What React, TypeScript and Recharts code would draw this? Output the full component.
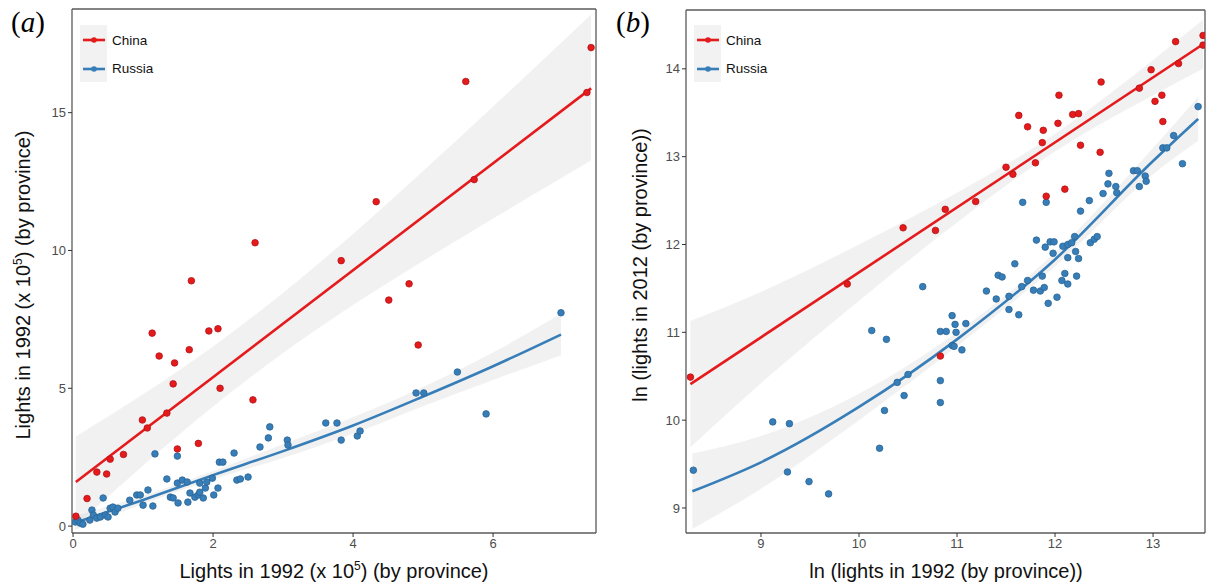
import React from "react";
import { ComposedChart, Scatter, Line, Area, XAxis, YAxis, Legend, ReferenceLine } from "recharts";

// panel (a): raw lights, x 10^5
const chinaA = [
  { x: 0.04, y: 0.36 }, { x: 0.2, y: 1.0 }, { x: 0.34, y: 1.96 }, { x: 0.48, y: 1.89 }, { x: 0.53, y: 2.43 },
  { x: 0.72, y: 2.6 }, { x: 0.99, y: 3.85 }, { x: 1.06, y: 3.56 }, { x: 1.13, y: 7.0 }, { x: 1.23, y: 6.17 },
  { x: 1.34, y: 4.1 }, { x: 1.43, y: 5.16 }, { x: 1.45, y: 5.92 }, { x: 1.49, y: 2.8 }, { x: 1.66, y: 6.4 },
  { x: 1.69, y: 8.9 }, { x: 1.79, y: 3.0 }, { x: 1.94, y: 7.08 }, { x: 2.07, y: 7.16 }, { x: 2.1, y: 5.0 },
  { x: 2.57, y: 4.58 }, { x: 2.6, y: 10.28 }, { x: 3.83, y: 9.63 }, { x: 4.33, y: 11.77 }, { x: 4.51, y: 8.2 },
  { x: 4.8, y: 8.79 }, { x: 4.93, y: 6.57 }, { x: 5.61, y: 16.13 }, { x: 5.73, y: 12.57 }, { x: 7.34, y: 15.73 },
  { x: 7.4, y: 17.36 },
];
const russiaA = [
  { x: 0.03, y: 0.15 }, { x: 0.07, y: 0.22 }, { x: 0.1, y: 0.11 }, { x: 0.14, y: 0.07 }, { x: 0.24, y: 0.22 },
  { x: 0.27, y: 0.58 }, { x: 0.29, y: 0.4 }, { x: 0.34, y: 0.29 }, { x: 0.39, y: 0.33 }, { x: 0.43, y: 1.02 },
  { x: 0.46, y: 0.4 }, { x: 0.5, y: 0.33 }, { x: 0.53, y: 0.65 }, { x: 0.57, y: 0.69 }, { x: 0.6, y: 0.51 },
  { x: 0.64, y: 0.65 }, { x: 0.81, y: 0.94 }, { x: 0.91, y: 1.13 }, { x: 0.96, y: 1.13 }, { x: 1.0, y: 0.76 },
  { x: 1.07, y: 1.31 }, { x: 1.14, y: 0.73 }, { x: 1.17, y: 2.62 }, { x: 1.34, y: 1.71 }, { x: 1.39, y: 1.05 },
  { x: 1.43, y: 1.02 }, { x: 1.49, y: 2.54 }, { x: 1.49, y: 1.56 }, { x: 1.5, y: 0.84 }, { x: 1.56, y: 1.67 },
  { x: 1.63, y: 1.6 }, { x: 1.64, y: 0.87 }, { x: 1.67, y: 1.2 }, { x: 1.74, y: 1.05 }, { x: 1.79, y: 1.13 },
  { x: 1.81, y: 1.56 }, { x: 1.81, y: 1.23 }, { x: 1.86, y: 1.02 }, { x: 1.89, y: 1.38 }, { x: 1.91, y: 1.6 },
  { x: 1.99, y: 1.74 }, { x: 2.01, y: 1.13 }, { x: 2.07, y: 1.38 }, { x: 2.09, y: 2.32 }, { x: 2.14, y: 2.32 },
  { x: 2.3, y: 2.65 }, { x: 2.34, y: 1.67 }, { x: 2.39, y: 1.71 }, { x: 2.5, y: 1.78 }, { x: 2.67, y: 2.87 },
  { x: 2.79, y: 3.2 }, { x: 2.81, y: 3.6 }, { x: 3.06, y: 3.12 }, { x: 3.07, y: 2.94 }, { x: 3.61, y: 3.74 },
  { x: 3.77, y: 3.74 }, { x: 3.83, y: 3.12 }, { x: 4.06, y: 3.27 }, { x: 4.1, y: 3.45 }, { x: 4.9, y: 4.83 },
  { x: 5.01, y: 4.83 }, { x: 5.49, y: 5.59 }, { x: 5.9, y: 4.07 }, { x: 6.97, y: 7.74 },
];
const chinaFitA = [{ x: 0.04, y: 1.6 }, { x: 7.4, y: 15.88 }];
const chinaBandA = [
  { x: 0.04, band: [0.01, 3.25] }, { x: 1, band: [2.2, 4.78] }, { x: 2, band: [4.34, 6.52] },
  { x: 3, band: [6.28, 8.46] }, { x: 4, band: [8.02, 10.6] }, { x: 5, band: [9.62, 12.88] },
  { x: 6, band: [11.16, 15.22] }, { x: 7.4, band: [13.26, 18.56] },
];
const russiaFitA = [
  { x: 0.03, y: 0.12 }, { x: 1, y: 0.95 }, { x: 2, y: 1.85 }, { x: 3, y: 2.72 }, { x: 4, y: 3.65 },
  { x: 5, y: 4.7 }, { x: 6, y: 5.8 }, { x: 6.97, y: 6.95 },
];
const russiaBandA = [
  { x: 0.03, band: [-0.13, 0.37] }, { x: 1, band: [0.8, 1.1] }, { x: 2, band: [1.7, 2.0] },
  { x: 3, band: [2.47, 2.97] }, { x: 4, band: [3.35, 3.95] }, { x: 5, band: [4.35, 5.05] },
  { x: 6, band: [5.3, 6.3] }, { x: 6.97, band: [6.2, 7.7] },
];

// panel (b): ln values
const chinaB = [
  { x: 8.28, y: 10.49 }, { x: 9.88, y: 11.55 }, { x: 10.45, y: 12.19 }, { x: 10.78, y: 12.16 }, { x: 10.83, y: 10.73 },
  { x: 10.88, y: 12.4 }, { x: 11.19, y: 12.49 }, { x: 11.5, y: 12.88 }, { x: 11.57, y: 12.8 }, { x: 11.63, y: 13.47 },
  { x: 11.72, y: 13.34 }, { x: 11.8, y: 12.93 }, { x: 11.87, y: 13.16 }, { x: 11.88, y: 13.3 }, { x: 11.91, y: 12.55 },
  { x: 12.03, y: 13.38 }, { x: 12.04, y: 13.7 }, { x: 12.1, y: 12.63 }, { x: 12.18, y: 13.48 }, { x: 12.24, y: 13.49 },
  { x: 12.26, y: 13.13 }, { x: 12.46, y: 13.05 }, { x: 12.47, y: 13.85 }, { x: 12.86, y: 13.78 }, { x: 12.98, y: 13.99 },
  { x: 13.02, y: 13.63 }, { x: 13.09, y: 13.7 }, { x: 13.1, y: 13.4 }, { x: 13.23, y: 14.31 }, { x: 13.26, y: 14.06 },
  { x: 13.51, y: 14.38 }, { x: 13.51, y: 14.27 },
];
const russiaB = [
  { x: 8.31, y: 9.43 }, { x: 9.12, y: 9.98 }, { x: 9.27, y: 9.41 }, { x: 9.29, y: 9.96 }, { x: 9.49, y: 9.3 },
  { x: 9.69, y: 9.16 }, { x: 10.13, y: 11.02 }, { x: 10.21, y: 9.68 }, { x: 10.26, y: 10.11 }, { x: 10.28, y: 10.92 },
  { x: 10.39, y: 10.43 }, { x: 10.46, y: 10.28 }, { x: 10.5, y: 10.52 }, { x: 10.65, y: 11.52 }, { x: 10.83, y: 10.45 },
  { x: 10.83, y: 10.2 }, { x: 10.83, y: 11.01 }, { x: 10.89, y: 11.01 }, { x: 10.95, y: 11.19 }, { x: 10.98, y: 11.09 },
  { x: 10.99, y: 11.0 }, { x: 11.09, y: 11.1 }, { x: 10.95, y: 10.85 }, { x: 10.97, y: 10.84 }, { x: 11.05, y: 10.8 },
  { x: 11.3, y: 11.47 }, { x: 11.42, y: 11.65 }, { x: 11.46, y: 11.63 }, { x: 11.4, y: 11.38 }, { x: 11.59, y: 11.78 },
  { x: 11.53, y: 11.41 }, { x: 11.53, y: 11.26 }, { x: 11.63, y: 11.2 }, { x: 11.66, y: 11.52 }, { x: 11.72, y: 11.59 },
  { x: 11.78, y: 11.48 }, { x: 11.85, y: 11.47 }, { x: 11.87, y: 11.64 }, { x: 11.89, y: 11.51 }, { x: 11.93, y: 11.33 },
  { x: 12.02, y: 11.4 }, { x: 12.07, y: 11.59 }, { x: 12.1, y: 11.67 }, { x: 12.13, y: 11.55 }, { x: 12.13, y: 11.85 },
  { x: 12.22, y: 11.64 }, { x: 12.24, y: 11.84 }, { x: 11.98, y: 11.9 }, { x: 12.21, y: 11.92 }, { x: 11.81, y: 12.05 },
  { x: 11.9, y: 11.97 }, { x: 11.95, y: 12.03 }, { x: 11.99, y: 12.03 }, { x: 11.67, y: 12.48 }, { x: 11.91, y: 12.48 },
  { x: 12.08, y: 11.98 }, { x: 12.13, y: 12.0 }, { x: 12.17, y: 12.02 }, { x: 12.2, y: 12.09 }, { x: 12.36, y: 12.02 },
  { x: 12.4, y: 12.06 }, { x: 12.43, y: 12.09 }, { x: 12.26, y: 12.38 }, { x: 12.35, y: 12.5 }, { x: 12.49, y: 12.58 },
  { x: 12.54, y: 12.69 }, { x: 12.55, y: 12.81 }, { x: 12.62, y: 12.66 }, { x: 12.63, y: 12.59 }, { x: 12.8, y: 12.84 },
  { x: 12.84, y: 12.84 }, { x: 12.86, y: 12.66 }, { x: 12.92, y: 12.78 }, { x: 12.93, y: 12.72 }, { x: 13.1, y: 13.1 },
  { x: 13.14, y: 13.1 }, { x: 13.21, y: 13.24 }, { x: 13.3, y: 12.92 }, { x: 13.46, y: 13.57 },
];
const chinaFitB = [{ x: 8.28, y: 10.41 }, { x: 13.51, y: 14.28 }];
const chinaBandB = [
  { x: 8.28, band: [9.69, 11.13] }, { x: 9, band: [10.42, 11.46] }, { x: 10, band: [11.36, 12.0] },
  { x: 11, band: [12.25, 12.59] }, { x: 12, band: [13.06, 13.26] }, { x: 13, band: [13.7, 14.1] },
  { x: 13.51, band: [14.0, 14.56] },
];
const russiaFitB = [
  { x: 8.3, y: 9.19 }, { x: 9, y: 9.52 }, { x: 10, y: 10.15 }, { x: 11, y: 10.92 },
  { x: 12, y: 11.83 }, { x: 13, y: 12.95 }, { x: 13.46, y: 13.43 },
];
const russiaBandB = [
  { x: 8.3, band: [8.76, 9.62] }, { x: 9, band: [9.22, 9.82] }, { x: 10, band: [10.0, 10.3] },
  { x: 11, band: [10.84, 11.0] }, { x: 12, band: [11.75, 11.91] }, { x: 13, band: [12.8, 13.1] },
  { x: 13.46, band: [13.18, 13.68] },
];

const ticksA_x = [0, 2, 4, 6];
const ticksA_y = [0, 5, 10, 15];
const ticksB_x = [9, 10, 11, 12, 13];
const ticksB_y = [9, 10, 11, 12, 13, 14];

const RED = "#E41A1C";
const BLUE = "#377EB8";
const FONT = '"Liberation Sans", Arial, Helvetica, sans-serif';
const SERIF = '"Liberation Serif", "DejaVu Serif", serif';
const AXIS = "#5a5a5a";

const dot = (color: string, edge: string) => (p: any) =>
  <circle cx={p.cx} cy={p.cy} r={3.3} fill={color} stroke={edge} strokeWidth={0.8} />;

const LegendBox = () => (
  <div style={{ position: "relative", width: 90, height: 57, fontFamily: FONT, fontSize: 13.5, color: "#111" }}>
    <div style={{ position: "absolute", left: 0, top: 0, width: 27, height: 57, background: "#f2f2f2" }} />
    {[{ name: "China", color: RED }, { name: "Russia", color: BLUE }].map((it, i) => (
      <div key={it.name} style={{ position: "absolute", left: 0, top: 7 + i * 28.5, height: 16, display: "flex", alignItems: "center" }}>
        <svg width={27} height={16}>
          <line x1={3} x2={25} y1={8} y2={8} stroke={it.color} strokeWidth={2.6} />
          <circle cx={14} cy={8} r={2.8} fill={it.color} />
        </svg>
        <span style={{ marginLeft: 5 }}>{it.name}</span>
      </div>
    ))}
  </div>
);

type PanelProps = {
  width: number;
  marginLeft: number;
  marginRight: number;
  top: number;
  xDomain: number[];
  yDomain: number[];
  xTicks: number[];
  yTicks: number[];
  china: any[];
  russia: any[];
  chinaFit: any[];
  russiaFit: any[];
  chinaBand: any[];
  russiaBand: any[];
};

function Panel(p: PanelProps) {
  const tick = { fill: "#4d4d4d", fontSize: 13, fontFamily: FONT };
  return (
    <ComposedChart width={p.width} height={588} margin={{ top: p.top, right: p.marginRight, bottom: 25, left: p.marginLeft }}>
      <XAxis type="number" dataKey="x" domain={p.xDomain} ticks={p.xTicks} allowDataOverflow height={30}
        tick={tick} tickSize={4} tickLine={{ stroke: "#333" }} axisLine={{ stroke: AXIS, strokeWidth: 1.3 }} />
      <YAxis type="number" dataKey="y" domain={p.yDomain} ticks={p.yTicks} allowDataOverflow width={40}
        tick={tick} tickSize={4} tickLine={{ stroke: "#333" }} axisLine={{ stroke: AXIS, strokeWidth: 1.3 }} />
      <Area data={p.russiaBand} dataKey="band" type="monotone" stroke="none" fill="#cfcfcf" fillOpacity={0.3} isAnimationActive={false} />
      <Area data={p.chinaBand} dataKey="band" type="monotone" stroke="none" fill="#cfcfcf" fillOpacity={0.3} isAnimationActive={false} />
      <Scatter name="Russia" data={p.russia} fill={BLUE} shape={dot(BLUE, "#2a6496")} isAnimationActive={false} />
      <Scatter name="China" data={p.china} fill={RED} shape={dot(RED, "#b31416")} isAnimationActive={false} />
      <Line data={p.russiaFit} dataKey="y" type="monotone" stroke={BLUE} strokeWidth={2.6} dot={false} isAnimationActive={false} />
      <Line data={p.chinaFit} dataKey="y" type="linear" stroke={RED} strokeWidth={2.6} dot={false} isAnimationActive={false} />
      {/* panel border: top and right edges */}
      <ReferenceLine y={p.yDomain[1]} stroke={AXIS} strokeWidth={1.3} />
      <ReferenceLine x={p.xDomain[1]} stroke={AXIS} strokeWidth={1.3} />
      <Legend layout="vertical" align="center" verticalAlign="middle" content={() => <LegendBox />}
        wrapperStyle={{ left: p.marginLeft + 48, top: 25, width: 100, height: 60 }} />
    </ComposedChart>
  );
}

const abs = (s: React.CSSProperties): React.CSSProperties => ({ position: "absolute", whiteSpace: "nowrap", ...s });
const title: React.CSSProperties = { fontFamily: FONT, fontSize: 20, color: "#111" };
const sup = { fontSize: 12 };

export default function App() {
  return (
    <div style={{ position: "absolute", left: 0, top: 0, width: 1206, height: 588, background: "#fff", overflow: "hidden" }}>
      <div style={abs({ left: 0, top: 0 })}>
        <Panel width={600} marginLeft={32} marginRight={4} top={9} xDomain={[-0.015, 7.47]} yDomain={[-0.25, 18.76]}
          xTicks={ticksA_x} yTicks={ticksA_y} china={chinaA} russia={russiaA} chinaFit={chinaFitA} russiaFit={russiaFitA}
          chinaBand={chinaBandA} russiaBand={russiaBandA} />
      </div>
      <div style={abs({ left: 600, top: 0 })}>
        <Panel width={606} marginLeft={46} marginRight={1} top={10} xDomain={[8.235, 13.53]} yDomain={[8.715, 14.67]}
          xTicks={ticksB_x} yTicks={ticksB_y} china={chinaB} russia={russiaB} chinaFit={chinaFitB} russiaFit={russiaFitB}
          chinaBand={chinaBandB} russiaBand={russiaBandB} />
      </div>

      <div style={abs({ left: 11, top: 6, fontFamily: SERIF, fontSize: 29 })}>
        (<i>a</i>)
      </div>
      <div style={abs({ left: 616, top: 6, fontFamily: SERIF, fontSize: 29 })}>
        (<i>b</i>)
      </div>

      <div style={abs({ ...title, left: 334, top: 571, transform: "translate(-50%, -50%)" })}>
        Lights in 1992 (x 10<sup style={sup}>5</sup>) (by province)
      </div>
      <div style={abs({ ...title, left: 23, top: 285, transform: "translate(-50%, -50%) rotate(-90deg)" })}>
        Lights in 1992 (x 10<sup style={sup}>5</sup>) (by province)
      </div>
      <div style={abs({ ...title, left: 946, top: 571, transform: "translate(-50%, -50%)" })}>
        ln (lights in 1992 (by province))
      </div>
      <div style={abs({ ...title, left: 640, top: 265, transform: "translate(-50%, -50%) rotate(-90deg)" })}>
        ln (lights in 2012 (by province))
      </div>
    </div>
  );
}
